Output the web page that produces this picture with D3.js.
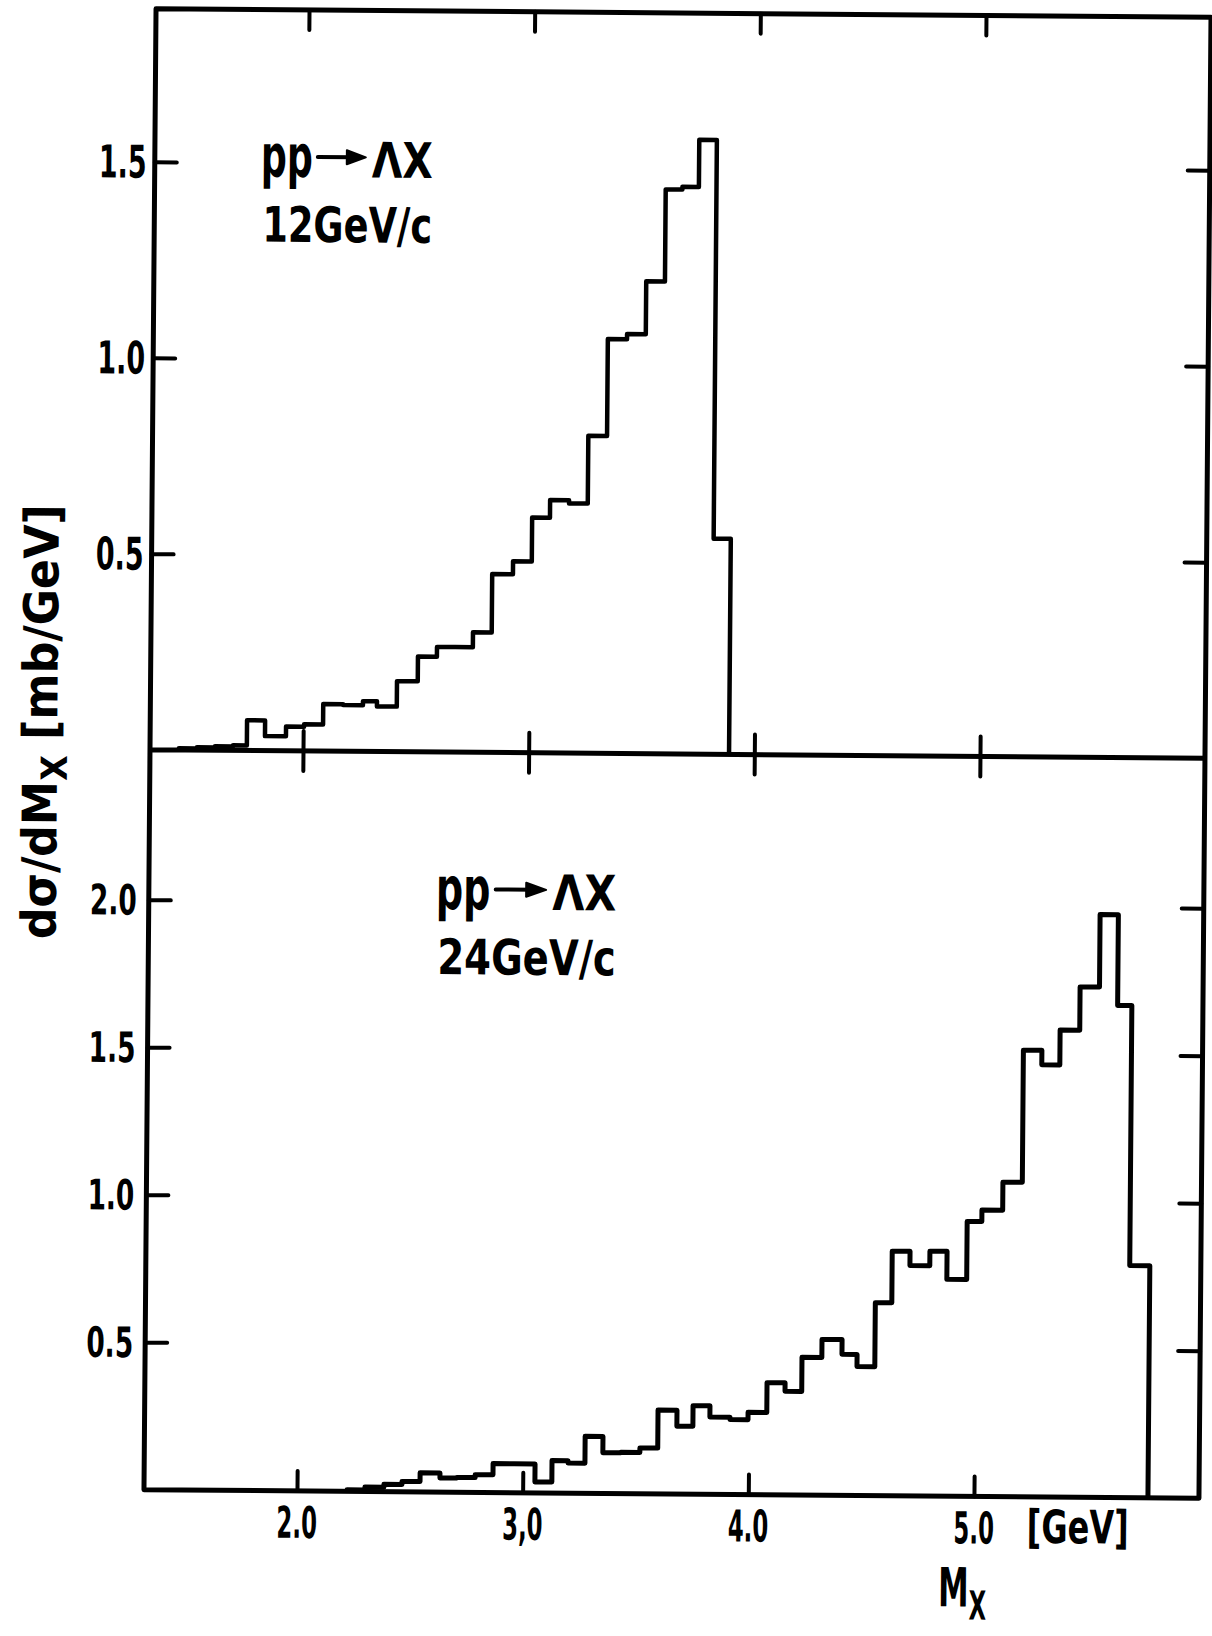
<!DOCTYPE html>
<html>
<head>
<meta charset="utf-8">
<script src="https://cdn.jsdelivr.net/npm/d3@7"></script>
<style>
  body { margin: 0; background: #fff; }
  text { font-family: "DejaVu Sans", sans-serif; font-weight: bold; fill: #000; }
</style>
</head>
<body>
<div id="chart"></div>
<script>

//histogram bin edges (GeV) and heights (mb/GeV)
let edges12 = [1.45, 1.53, 1.61, 1.69, 1.751, 1.831, 1.924, 2.004, 2.088, 2.176, 2.264, 2.326,
               2.414, 2.506, 2.590, 2.670, 2.749, 2.832, 2.924, 3.007, 3.086, 3.170, 3.253,
               3.336, 3.421, 3.504, 3.587, 3.661, 3.734, 3.812, 3.888]
let values12 = [0.004, 0.007, 0.010, 0.013, 0.077, 0.037, 0.062, 0.068, 0.120, 0.118, 0.128,
                0.115, 0.180, 0.243, 0.268, 0.268, 0.306, 0.455, 0.488, 0.600, 0.645, 0.637,
                0.810, 1.057, 1.070, 1.205, 1.440, 1.447, 1.567, 0.550]

let edges24 = [2.222, 2.301, 2.385, 2.465, 2.545, 2.633, 2.708, 2.789, 2.868, 2.961, 3.054,
               3.129, 3.200, 3.275, 3.354, 3.434, 3.518, 3.597, 3.681, 3.752, 3.827, 3.916,
               3.996, 4.079, 4.159, 4.233, 4.321, 4.410, 4.477, 4.556, 4.629, 4.708, 4.796,
               4.872, 4.960, 5.025, 5.117, 5.203, 5.285, 5.365, 5.452, 5.538, 5.619, 5.682, 5.771]
let values24 = [0.005, 0.015, 0.025, 0.035, 0.065, 0.048, 0.050, 0.060, 0.098, 0.098, 0.037,
                0.110, 0.102, 0.193, 0.138, 0.140, 0.155, 0.284, 0.230, 0.300, 0.262, 0.254,
                0.279, 0.380, 0.351, 0.467, 0.528, 0.478, 0.437, 0.654, 0.829, 0.781, 0.830,
                0.735, 0.932, 0.971, 1.066, 1.514, 1.465, 1.583, 1.730, 1.976, 1.668, 0.787]

let xTicks = [2, 3, 4, 5]
let xTickLabels = ["2.0", "3,0", "4.0", "5.0"]
let yTicks12 = [0.5, 1.0, 1.5]
let yTickLabels12 = ["0.5", "1.0", "1.5"]
let yTicks24 = [0.5, 1.0, 1.5, 2.0]
let yTickLabels24 = ["0.5", "1.0", "1.5", "2.0"]

let W = 1212, H = 1636
let frameL = 150, frameR = 1205, frameT = 13, frameM = 754, frameB = 1494

let svg = d3.select("#chart").append("svg")
svg.attr("width", W)
svg.attr("height", H)
svg.append("rect").attr("width", W).attr("height", H).attr("fill", "#fff")

//the scanned page sits a little turned clockwise
let g = svg.append("g").attr("transform", "rotate(0.466,680,752)")

let x = d3.scaleLinear().domain([2, 5]).range([303, 980])
let y12 = d3.scaleLinear().domain([0, 1.5]).range([frameM, 166])
let y24 = d3.scaleLinear().domain([0, 2]).range([frameB, 904])

//frame and the shared middle line
g.append("path")
 .attr("d", `M${frameL},${frameT}H${frameR}V${frameB}H${frameL}Z M${frameL},${frameM}H${frameR}`)
 .attr("fill", "none")
 .attr("stroke", "#000")
 .attr("stroke-width", 5)
 .attr("stroke-linejoin", "round")

//inward ticks, no labels from d3 (drawn below, condensed)
function ticks(axis, tx, ty) {
  let a = g.append("g").attr("transform", `translate(${tx},${ty})`)
  a.call(axis.tickSizeOuter(0).tickFormat(""))
  a.select(".domain").remove()
  a.selectAll("line").attr("stroke-width", 4).attr("stroke-linecap", "round")
}
ticks(d3.axisLeft(y12).tickValues(yTicks12).tickSizeInner(-22), frameL, 0)
ticks(d3.axisRight(y12).tickValues(yTicks12).tickSizeInner(-22), frameR, 0)
ticks(d3.axisTop(x).tickValues(xTicks).tickSizeInner(-20), 0, frameT)
ticks(d3.axisBottom(x).tickValues(xTicks).tickSizeInner(-20), 0, frameM)
ticks(d3.axisTop(x).tickValues(xTicks).tickSizeInner(-20), 0, frameM)
ticks(d3.axisLeft(y24).tickValues(yTicks24).tickSizeInner(-22), frameL, 0)
ticks(d3.axisRight(y24).tickValues(yTicks24).tickSizeInner(-22), frameR, 0)
ticks(d3.axisBottom(x).tickValues(xTicks).tickSizeInner(-20), 0, frameB)

//step histograms
function histPath(edges, values, ys) {
  let pts = [[edges[0], 0]]
  values.forEach((v, i) => pts.push([edges[i], v]))
  pts.push([edges[edges.length - 1], 0])
  return d3.line().x(d => x(d[0])).y(d => ys(d[1])).curve(d3.curveStepAfter)(pts)
}
g.append("path").attr("d", histPath(edges12, values12, y12))
 .attr("fill", "none").attr("stroke", "#000").attr("stroke-width", 4.5).attr("stroke-linejoin", "round")
g.append("path").attr("d", histPath(edges24, values24, y24))
 .attr("fill", "none").attr("stroke", "#000").attr("stroke-width", 5).attr("stroke-linejoin", "round")

//text helpers: tick labels squeezed by a factor, other labels fitted to a width
function tickLabel(str, px, py, size, sx, anchor) {
  g.append("text")
   .attr("transform", `translate(${px},${py}) scale(${sx},1)`)
   .attr("text-anchor", anchor)
   .attr("font-size", size)
   .text(str)
}
function fit(t, px, py, width, rot) {
  let sx = width / t.node().getComputedTextLength()
  t.attr("transform", `translate(${px},${py})` + (rot ? ` rotate(${rot})` : "") + ` scale(${sx},1)`)
  return t
}
function label(str, px, py, size, width, anchor) {
  let t = g.append("text").attr("font-size", size).attr("text-anchor", anchor || "start").text(str)
  return fit(t, px, py, width)
}

yTicks12.forEach((v, i) => tickLabel(yTickLabels12[i], frameL - 8, y12(v) + 16, 45, 0.6, "end"))
yTicks24.forEach((v, i) => tickLabel(yTickLabels24[i], frameL - 12, y24(v) + 15, 42, 0.63, "end"))
xTicks.forEach((v, i) => tickLabel(xTickLabels[i], x(v), 1541, 44, 0.52, "middle"))

label("[GeV]", 1033, 1540, 46, 102)

let mx = g.append("text").attr("font-size", 54)
mx.append("tspan").text("M")
mx.append("tspan").attr("font-size", 40).attr("dy", 13).text("X")
fit(mx, 945, 1604, 48)

//y title, reads bottom to top
let yt = g.append("text").attr("font-size", 48).attr("text-anchor", "middle")
yt.append("tspan").text("dσ/dM")
yt.append("tspan").attr("font-size", 36).attr("dy", 10).text("X")
yt.append("tspan").attr("dy", -10).text(" [mb/GeV]")
fit(yt, 57, 727, 435, -90)

//reaction labels inside each panel
function reaction(ax, base, k, energy) {
  label("pp", ax, base, 59, 52 * k)
  let ay = base - 20
  g.append("line")
   .attr("x1", ax + 57 * k).attr("x2", ax + 92 * k).attr("y1", ay).attr("y2", ay)
   .attr("stroke", "#000").attr("stroke-width", 4).attr("stroke-linecap", "round")
  g.append("path")
   .attr("d", `M${ax + 86 * k},${ay - 7}L${ax + 105 * k},${ay}L${ax + 86 * k},${ay + 7}Z`)
   .attr("fill", "#000").attr("stroke", "#000").attr("stroke-width", 2).attr("stroke-linejoin", "round")
  label("ΛX", ax + 111 * k, base, 49, 61 * k)
  label(energy, ax + 2, base + 65, 49, 170 * k)
}
reaction(256, 180, 1, "12GeV/c")
reaction(437, 911, 1.05, "24GeV/c")

</script>
</body>
</html>
